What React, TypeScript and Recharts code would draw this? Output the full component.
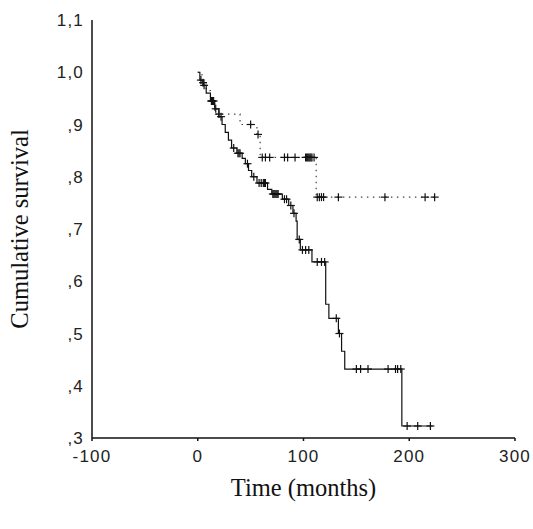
import React from "react";
import {
  ComposedChart,
  Line,
  Scatter,
  XAxis,
  YAxis,
  Label,
} from "recharts";

// step points (time in months, cumulative survival)
const SOLID_TIMES = [0, 2, 5, 8, 12, 16, 20, 23, 26, 29, 32, 37, 42, 45, 48, 51, 56, 66, 70, 80, 86, 90, 93, 94, 97, 108, 121, 124, 133, 136, 139, 193, 222];
const SOLID_SURV = [1.0, 0.985, 0.975, 0.96, 0.945, 0.93, 0.915, 0.9, 0.885, 0.87, 0.855, 0.845, 0.835, 0.825, 0.812, 0.8, 0.788, 0.776, 0.767, 0.757, 0.745, 0.73, 0.715, 0.68, 0.66, 0.637, 0.556, 0.529, 0.5, 0.466, 0.432, 0.323, 0.323];
const SOLID_CENSORED = [3, 6, 13, 14, 15, 17, 22, 34, 38, 39, 40, 47, 53, 58, 60, 62, 63, 64, 71, 72, 73, 74, 75, 76, 82, 84, 88, 91, 96, 99, 102, 105, 113, 117, 120, 131, 134, 150, 154, 161, 180, 187, 189, 192, 198, 208, 220];

const DOTTED_TIMES = [0, 4, 8, 12, 16, 40, 56, 59, 112, 224];
const DOTTED_SURV = [1.0, 0.98, 0.965, 0.945, 0.92, 0.9, 0.881, 0.837, 0.761, 0.761];
const DOTTED_CENSORED = [5, 13, 20, 50, 57, 61, 64, 68, 82, 85, 92, 102, 103, 104, 105, 106, 107, 108, 110, 113, 115, 117, 119, 133, 177, 215, 224];

const X_TICKS = [-100, 0, 100, 200, 300];
const Y_TICKS = [0.3, 0.4, 0.5, 0.6, 0.7, 0.8, 0.9, 1.0, 1.1];

const toSteps = (times: number[], surv: number[]) =>
  times.map((t, i) => ({ t, s: surv[i] }));

// survival at a censoring time = last step at or before it
const censorMarks = (censored: number[], times: number[], surv: number[]) =>
  censored.map((t) => {
    let idx = 0;
    times.forEach((tt, i) => {
      if (tt <= t) idx = i;
    });
    return { t, s: surv[idx] };
  });

const solidSteps = toSteps(SOLID_TIMES, SOLID_SURV);
const dottedSteps = toSteps(DOTTED_TIMES, DOTTED_SURV);
const solidMarks = censorMarks(SOLID_CENSORED, SOLID_TIMES, SOLID_SURV);
const dottedMarks = censorMarks(DOTTED_CENSORED, DOTTED_TIMES, DOTTED_SURV);

const fmtY = (v: number) => v.toFixed(1).replace(".", ",").replace(/^0/, "");

const Plus = (props: any) => {
  const { cx, cy } = props;
  if (cx == null || cy == null) return null;
  return (
    <g stroke="#111" strokeWidth={1.2}>
      <line x1={cx - 4} y1={cy} x2={cx + 4} y2={cy} />
      <line x1={cx} y1={cy - 4} x2={cx} y2={cy + 4} />
    </g>
  );
};

const tickStyle = {
  fontFamily: "Liberation Sans, Arial, sans-serif",
  fontSize: 17,
  letterSpacing: 1.2,
  fill: "#222",
};
const titleStyle = { fontFamily: "Liberation Serif, Times New Roman, serif", fontSize: 24.5, fill: "#111" };

export default function App() {
  return (
    <div style={{ position: "absolute", left: 0, top: 0, background: "#fff" }}>
      <ComposedChart
        width={533}
        height={529}
        margin={{ top: 20, right: 18, bottom: 0, left: 0 }}
      >
        <XAxis
          dataKey="t"
          type="number"
          domain={[-100, 300]}
          ticks={X_TICKS}
          allowDataOverflow
          stroke="#111"
          strokeWidth={1.5}
          tickSize={3}
          tickMargin={9}
          tick={tickStyle}
          height={91}
        >
          <Label value="Time (months)" position="insideBottom" offset={33} style={titleStyle} />
        </XAxis>
        <YAxis
          dataKey="s"
          type="number"
          domain={[0.3, 1.1]}
          ticks={Y_TICKS}
          allowDataOverflow
          tickFormatter={fmtY}
          stroke="#111"
          strokeWidth={1.5}
          tickLine={false}
          tickMargin={2}
          tick={tickStyle}
          width={92}
        >
          <Label
            value="Cumulative survival"
            angle={-90}
            position="insideLeft"
            offset={19}
            style={{ ...titleStyle, textAnchor: "middle" }}
          />
        </YAxis>
        <Line
          data={dottedSteps}
          dataKey="s"
          type="stepAfter"
          stroke="#444"
          strokeWidth={1.2}
          strokeDasharray="1.5 4.5"
          dot={false}
          isAnimationActive={false}
        />
        <Line
          data={solidSteps}
          dataKey="s"
          type="stepAfter"
          stroke="#111"
          strokeWidth={1.2}
          dot={false}
          isAnimationActive={false}
        />
        <Scatter data={dottedMarks} dataKey="s" shape={<Plus />} isAnimationActive={false} />
        <Scatter data={solidMarks} dataKey="s" shape={<Plus />} isAnimationActive={false} />
      </ComposedChart>
    </div>
  );
}
